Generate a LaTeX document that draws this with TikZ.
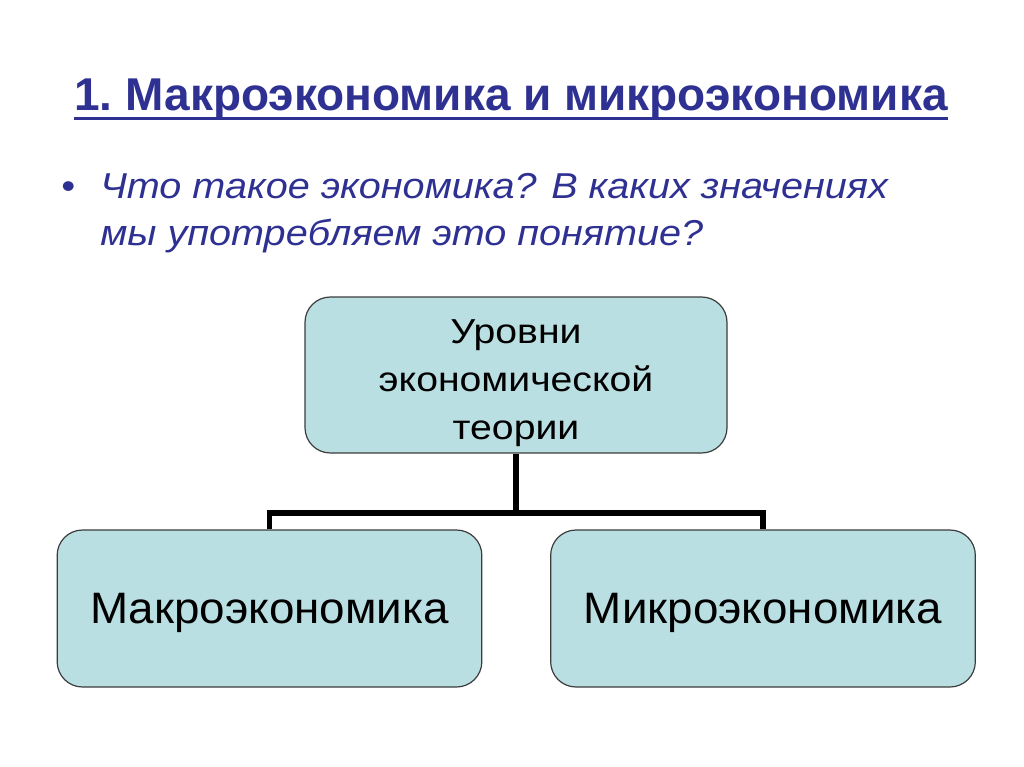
\documentclass[tikz,border=0pt]{standalone}
\usepackage{fontspec}
\setmainfont{Liberation Sans}
\newfontfamily\askfont[FakeStretch=1.1]{Liberation Sans}
\newfontfamily\topfont[FakeStretch=1.13]{Liberation Sans}
\newfontfamily\levelfont[FakeStretch=1.04]{Liberation Sans}
\usepackage{tikz}
\usetikzlibrary{positioning}

\definecolor{navy}{RGB}{46,49,146}
\definecolor{boxfill}{RGB}{186,223,226}
\definecolor{boxline}{RGB}{60,60,60}

\begin{document}
\begin{tikzpicture}[
			        x=0.75pt, y=-0.75pt,
			        level/.style={draw=boxline, fill=boxfill, line width=0.9pt,
			                      rounded corners=19pt, inner sep=0pt},
			        caption/.style={align=center, inner sep=0pt},
			        tree/.style={line width=3.8pt, black},
			        heading/.style={font=\fontsize{34.5}{40}\selectfont\bfseries, text=navy, inner sep=0pt},
			        question/.style={font=\askfont\fontsize{27}{32}\selectfont\itshape, text=navy, inner sep=0pt, anchor=base west}
			        ]
			        \useasboundingbox (0,0) rectangle (1024,767);
			        \node[heading, anchor=base] (title) at (511,110) {1.\ Макроэкономика и микроэкономика};
			        \draw[navy, line width=2.25pt] ([yshift=-6.4pt]title.base west) -- ([yshift=-6.4pt]title.base east);
			        \node[question, anchor=base] (dot) at (68,198) {•};
			        \node[question] (q1) at (100,198) {Что такое экономика? В каких значениях};
			        \node[question] (q2) at (100,245) {мы употребляем это понятие?};
			        \node[level, minimum width=316.5pt, minimum height=117pt] (top) at (516,375) {};
			        \node[level, minimum width=318.5pt, minimum height=117.75pt] (macro) at (269.5,608.5) {};
			        \node[level, minimum width=318.5pt, minimum height=117.75pt] (micro) at (763,608.5) {};
			        \node[caption, font=\topfont\fontsize{26}{36}\selectfont] (topcap) at ([yshift=-6pt]top.center) {Уровни\\экономической\\теории};
			        \node[caption, font=\levelfont\fontsize{33}{38}\selectfont] (macrocap) at ([yshift=-3pt]macro.center) {Макроэкономика};
			        \node[caption, font=\levelfont\fontsize{33}{38}\selectfont] (microcap) at ([yshift=-3pt]micro.center) {Микроэкономика};
			        \coordinate (fork) at (516,513);
			        \draw[tree] (top.south) -- (fork);
			        \draw[tree] (macro.north) |- (fork) -| (micro.north);
			    \end{tikzpicture}
\end{document}
